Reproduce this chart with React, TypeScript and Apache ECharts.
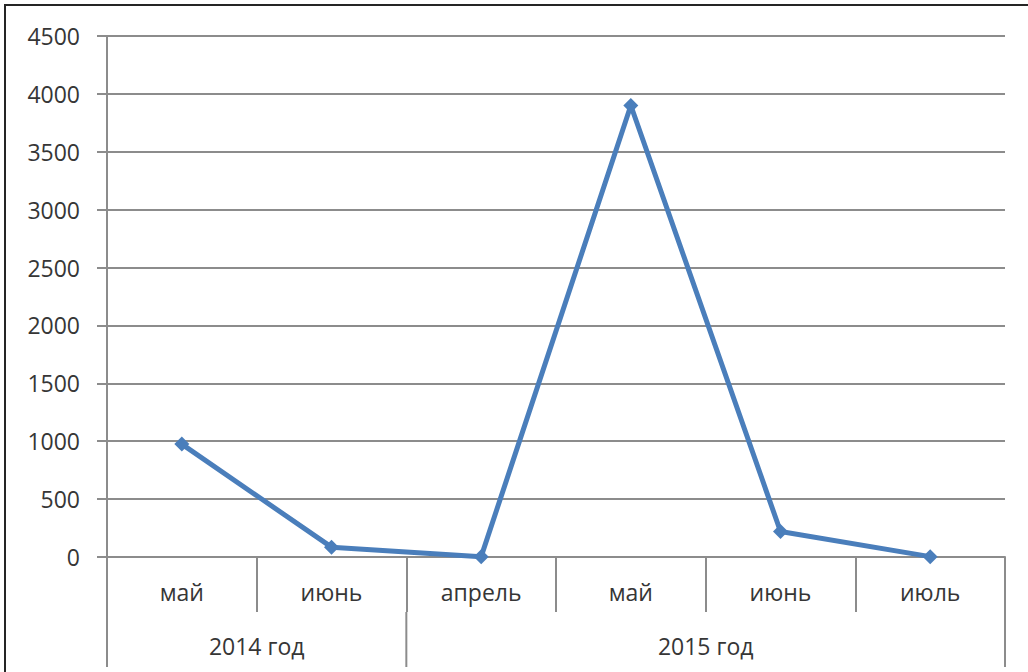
import React, { useEffect, useRef } from "react";
import * as echarts from "echarts";

const months = ["май", "июнь", "апрель", "май", "июнь", "июль"];
const values = [975, 85, 3, 3900, 220, 3];
const years = ["2014 год", "2015 год"];
const yearSpans = [2, 4];
const yTicks = { min: 0, max: 4500, interval: 500 };

const FONT = "'Open Sans', 'Liberation Sans', sans-serif";
const TEXT = "#363636";
const AXIS = "#8c8c8c";
const BLUE = "#4a7ebb";

export default function App() {
  const ref = useRef<HTMLDivElement>(null);
  useEffect(() => {
    if (!ref.current) return;
    const chart = echarts.init(ref.current, null, { renderer: "svg" });
    chart.setOption({
      animation: false,
      backgroundColor: "#ffffff",
      grid: { left: 107, right: 23, top: 36, bottom: 115, containLabel: false },
      xAxis: {
        type: "category",
        data: months,
        boundaryGap: true,
        axisLine: { show: true, lineStyle: { color: AXIS, width: 2 } },
        axisTick: { show: true, interval: 0, length: 55, lineStyle: { color: AXIS, width: 2 } },
        axisLabel: { interval: 0, margin: 23, color: TEXT, fontSize: 23, fontFamily: FONT },
        splitLine: { show: false },
      },
      yAxis: {
        type: "value",
        min: yTicks.min,
        max: yTicks.max,
        interval: yTicks.interval,
        axisLine: { show: true, lineStyle: { color: AXIS, width: 2 } },
        axisTick: { show: true, length: 10, lineStyle: { color: AXIS, width: 2 } },
        axisLabel: {
          margin: 27,
          color: TEXT,
          fontSize: 23,
          fontFamily: FONT,
          formatter: (v: number) => String(v),
        },
        splitLine: { show: true, lineStyle: { color: AXIS, width: 2 } },
      },
      series: [
        {
          type: "line",
          data: values,
          symbol: "diamond",
          symbolSize: 15,
          lineStyle: { color: BLUE, width: 5 },
          itemStyle: { color: BLUE },
        },
      ],
    });

    const x0 = chart.convertToPixel({ xAxisIndex: 0 }, 0) as number;
    const x1 = chart.convertToPixel({ xAxisIndex: 0 }, 1) as number;
    const w = x1 - x0;
    const left = x0 - w / 2;
    const right = left + w * months.length;
    const yAxisY = chart.convertToPixel({ yAxisIndex: 0 }, 0) as number;
    const rowBottom = yAxisY + 55;
    const bottom = yAxisY + 110;

    const elements: any[] = [
      {
        type: "rect",
        shape: { x: 5, y: 5, width: 1040, height: 700 },
        style: { fill: "none", stroke: "#252525", lineWidth: 2 },
        silent: true,
      },
      {
        type: "line",
        shape: { x1: left, y1: yAxisY, x2: left, y2: bottom },
        style: { stroke: AXIS, lineWidth: 2 },
      },
      {
        type: "line",
        shape: { x1: right, y1: yAxisY, x2: right, y2: bottom },
        style: { stroke: AXIS, lineWidth: 2 },
      },
    ];
    let start = 0;
    years.forEach((y, i) => {
      const gx0 = left + start * w;
      const gx1 = gx0 + yearSpans[i] * w;
      elements.push({
        type: "text",
        x: (gx0 + gx1) / 2,
        y: (rowBottom + bottom) / 2 + 6,
        style: {
          text: y,
          align: "center",
          verticalAlign: "middle",
          fill: TEXT,
          font: `23px ${FONT}`,
        },
      });
      if (i > 0) {
        elements.push({
          type: "line",
          shape: { x1: gx0, y1: rowBottom, x2: gx0, y2: bottom },
          style: { stroke: AXIS, lineWidth: 2 },
        });
      }
      start += yearSpans[i];
    });
    chart.setOption({ graphic: { elements } });

    return () => chart.dispose();
  }, []);
  return (
    <div
      ref={ref}
      style={{ position: "absolute", left: 0, top: 0, width: 1028, height: 672 }}
    />
  );
}
